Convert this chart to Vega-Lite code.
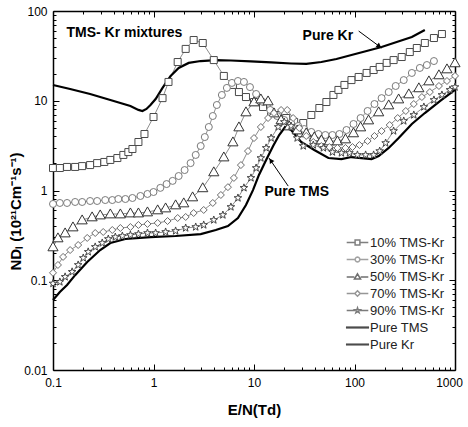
{
  "$schema": "https://vega.github.io/schema/vega-lite/v6.json",
  "width": 402,
  "height": 359,
  "autosize": {"type": "none"},
  "padding": {"left": 53, "top": 11, "right": 13, "bottom": 57},
  "background": "white",
  "config": {
    "view": {"stroke": null},
    "font": "Liberation Sans",
    "axis": {"labelFont": "Liberation Sans", "titleFont": "Liberation Sans", "labelColor": "black", "titleColor": "black", "tickColor": "black", "domainColor": "black", "grid": false, "labelFontSize": 12}
  },
  "datasets": {
    "mix": [
      {"s":"10% TMS-Kr","x":0.1,"y":1.78},{"s":"10% TMS-Kr","x":0.117,"y":1.78},{"s":"10% TMS-Kr","x":0.138,"y":1.83},{"s":"10% TMS-Kr","x":0.166,"y":1.83},{"s":"10% TMS-Kr","x":0.195,"y":1.87},{"s":"10% TMS-Kr","x":0.234,"y":1.92},{"s":"10% TMS-Kr","x":0.275,"y":2.02},{"s":"10% TMS-Kr","x":0.324,"y":2.08},{"s":"10% TMS-Kr","x":0.372,"y":2.19},{"s":"10% TMS-Kr","x":0.437,"y":2.3},{"s":"10% TMS-Kr","x":0.501,"y":2.49},{"s":"10% TMS-Kr","x":0.562,"y":2.68},{"s":"10% TMS-Kr","x":0.617,"y":2.9},{"s":"10% TMS-Kr","x":0.708,"y":3.47},{"s":"10% TMS-Kr","x":0.813,"y":4.26},{"s":"10% TMS-Kr","x":1.0,"y":6.59},{"s":"10% TMS-Kr","x":1.23,"y":10.7},{"s":"10% TMS-Kr","x":1.41,"y":16.2},{"s":"10% TMS-Kr","x":1.74,"y":27.0},{"s":"10% TMS-Kr","x":2.09,"y":37.8},{"s":"10% TMS-Kr","x":2.51,"y":47.5},{"s":"10% TMS-Kr","x":3.09,"y":44.0},{"s":"10% TMS-Kr","x":3.98,"y":28.4},{"s":"10% TMS-Kr","x":5.01,"y":18.9},{"s":"10% TMS-Kr","x":6.17,"y":15.0},{"s":"10% TMS-Kr","x":7.08,"y":12.5},{"s":"10% TMS-Kr","x":8.32,"y":11.0},{"s":"10% TMS-Kr","x":10.0,"y":9.68},{"s":"10% TMS-Kr","x":12.3,"y":8.52},{"s":"10% TMS-Kr","x":14.8,"y":7.5},{"s":"10% TMS-Kr","x":17.4,"y":6.94},{"s":"10% TMS-Kr","x":20.9,"y":6.42},{"s":"10% TMS-Kr","x":25.1,"y":5.8},{"s":"10% TMS-Kr","x":30.9,"y":5.65},{"s":"10% TMS-Kr","x":37.2,"y":6.94},{"s":"10% TMS-Kr","x":44.7,"y":8.3},{"s":"10% TMS-Kr","x":52.5,"y":9.68},{"s":"10% TMS-Kr","x":61.7,"y":11.6},{"s":"10% TMS-Kr","x":69.2,"y":13.2},{"s":"10% TMS-Kr","x":79.4,"y":15.0},{"s":"10% TMS-Kr","x":93.3,"y":17.0},{"s":"10% TMS-Kr","x":110,"y":18.4},{"s":"10% TMS-Kr","x":132,"y":20.4},{"s":"10% TMS-Kr","x":155,"y":22.0},{"s":"10% TMS-Kr","x":178,"y":23.8},{"s":"10% TMS-Kr","x":209,"y":26.4},{"s":"10% TMS-Kr","x":245,"y":28.4},{"s":"10% TMS-Kr","x":295,"y":30.7},{"s":"10% TMS-Kr","x":355,"y":34.9},{"s":"10% TMS-Kr","x":417,"y":38.7},{"s":"10% TMS-Kr","x":501,"y":44.0},{"s":"10% TMS-Kr","x":617,"y":50.0},{"s":"10% TMS-Kr","x":741,"y":55.4},
      {"s":"30% TMS-Kr","x":0.1,"y":0.708},{"s":"30% TMS-Kr","x":0.117,"y":0.726},{"s":"30% TMS-Kr","x":0.138,"y":0.726},{"s":"30% TMS-Kr","x":0.166,"y":0.745},{"s":"30% TMS-Kr","x":0.195,"y":0.745},{"s":"30% TMS-Kr","x":0.234,"y":0.764},{"s":"30% TMS-Kr","x":0.275,"y":0.764},{"s":"30% TMS-Kr","x":0.331,"y":0.783},{"s":"30% TMS-Kr","x":0.389,"y":0.783},{"s":"30% TMS-Kr","x":0.447,"y":0.804},{"s":"30% TMS-Kr","x":0.525,"y":0.804},{"s":"30% TMS-Kr","x":0.617,"y":0.825},{"s":"30% TMS-Kr","x":0.741,"y":0.869},{"s":"30% TMS-Kr","x":0.871,"y":0.915},{"s":"30% TMS-Kr","x":1.0,"y":0.962},{"s":"30% TMS-Kr","x":1.17,"y":1.07},{"s":"30% TMS-Kr","x":1.35,"y":1.18},{"s":"30% TMS-Kr","x":1.55,"y":1.28},{"s":"30% TMS-Kr","x":1.78,"y":1.45},{"s":"30% TMS-Kr","x":2.04,"y":1.69},{"s":"30% TMS-Kr","x":2.34,"y":2.02},{"s":"30% TMS-Kr","x":2.63,"y":2.49},{"s":"30% TMS-Kr","x":2.95,"y":3.13},{"s":"30% TMS-Kr","x":3.24,"y":3.94},{"s":"30% TMS-Kr","x":3.55,"y":5.1},{"s":"30% TMS-Kr","x":3.89,"y":6.76},{"s":"30% TMS-Kr","x":4.27,"y":8.97},{"s":"30% TMS-Kr","x":4.79,"y":11.6},{"s":"30% TMS-Kr","x":5.37,"y":13.9},{"s":"30% TMS-Kr","x":6.03,"y":15.8},{"s":"30% TMS-Kr","x":6.92,"y":16.6},{"s":"30% TMS-Kr","x":7.94,"y":16.2},{"s":"30% TMS-Kr","x":9.12,"y":14.2},{"s":"30% TMS-Kr","x":10.5,"y":11.9},{"s":"30% TMS-Kr","x":12.3,"y":9.68},{"s":"30% TMS-Kr","x":14.5,"y":7.89},{"s":"30% TMS-Kr","x":17.0,"y":6.76},{"s":"30% TMS-Kr","x":20.0,"y":6.1},{"s":"30% TMS-Kr","x":23.4,"y":5.65},{"s":"30% TMS-Kr","x":27.5,"y":5.23},{"s":"30% TMS-Kr","x":31.6,"y":4.84},{"s":"30% TMS-Kr","x":37.2,"y":4.49},{"s":"30% TMS-Kr","x":43.7,"y":4.26},{"s":"30% TMS-Kr","x":51.3,"y":4.15},{"s":"30% TMS-Kr","x":60.3,"y":4.15},{"s":"30% TMS-Kr","x":70.8,"y":4.26},{"s":"30% TMS-Kr","x":83.2,"y":4.72},{"s":"30% TMS-Kr","x":97.7,"y":5.51},{"s":"30% TMS-Kr","x":115,"y":6.42},{"s":"30% TMS-Kr","x":135,"y":7.69},{"s":"30% TMS-Kr","x":158,"y":9.2},{"s":"30% TMS-Kr","x":186,"y":10.7},{"s":"30% TMS-Kr","x":219,"y":12.5},{"s":"30% TMS-Kr","x":257,"y":14.6},{"s":"30% TMS-Kr","x":309,"y":17.0},{"s":"30% TMS-Kr","x":372,"y":20.4},{"s":"30% TMS-Kr","x":447,"y":23.2},{"s":"30% TMS-Kr","x":525,"y":25.0},{"s":"30% TMS-Kr","x":617,"y":27.7},
      {"s":"50% TMS-Kr","x":0.1,"y":0.235},{"s":"50% TMS-Kr","x":0.112,"y":0.296},{"s":"50% TMS-Kr","x":0.132,"y":0.336},{"s":"50% TMS-Kr","x":0.158,"y":0.392},{"s":"50% TMS-Kr","x":0.195,"y":0.469},{"s":"50% TMS-Kr","x":0.245,"y":0.507},{"s":"50% TMS-Kr","x":0.295,"y":0.533},{"s":"50% TMS-Kr","x":0.372,"y":0.547},{"s":"50% TMS-Kr","x":0.468,"y":0.547},{"s":"50% TMS-Kr","x":0.589,"y":0.561},{"s":"50% TMS-Kr","x":0.708,"y":0.561},{"s":"50% TMS-Kr","x":0.871,"y":0.576},{"s":"50% TMS-Kr","x":1.1,"y":0.607},{"s":"50% TMS-Kr","x":1.32,"y":0.638},{"s":"50% TMS-Kr","x":1.66,"y":0.69},{"s":"50% TMS-Kr","x":2.0,"y":0.726},{"s":"50% TMS-Kr","x":2.45,"y":0.847},{"s":"50% TMS-Kr","x":3.09,"y":1.07},{"s":"50% TMS-Kr","x":3.98,"y":1.61},{"s":"50% TMS-Kr","x":5.01,"y":2.36},{"s":"50% TMS-Kr","x":6.17,"y":3.47},{"s":"50% TMS-Kr","x":7.08,"y":5.1},{"s":"50% TMS-Kr","x":8.32,"y":7.5},{"s":"50% TMS-Kr","x":10.0,"y":9.68},{"s":"50% TMS-Kr","x":11.7,"y":10.45},{"s":"50% TMS-Kr","x":13.8,"y":9.93},{"s":"50% TMS-Kr","x":15.8,"y":7.3},{"s":"50% TMS-Kr","x":18.6,"y":6.1},{"s":"50% TMS-Kr","x":22.4,"y":5.23},{"s":"50% TMS-Kr","x":26.9,"y":4.72},{"s":"50% TMS-Kr","x":33.1,"y":4.38},{"s":"50% TMS-Kr","x":39.8,"y":3.94},{"s":"50% TMS-Kr","x":46.8,"y":3.65},{"s":"50% TMS-Kr","x":56.2,"y":3.56},{"s":"50% TMS-Kr","x":67.6,"y":3.56},{"s":"50% TMS-Kr","x":81.3,"y":3.75},{"s":"50% TMS-Kr","x":97.7,"y":4.38},{"s":"50% TMS-Kr","x":115,"y":5.1},{"s":"50% TMS-Kr","x":138,"y":6.1},{"s":"50% TMS-Kr","x":174,"y":7.5},{"s":"50% TMS-Kr","x":219,"y":8.97},{"s":"50% TMS-Kr","x":275,"y":10.45},{"s":"50% TMS-Kr","x":347,"y":11.9},{"s":"50% TMS-Kr","x":437,"y":13.9},{"s":"50% TMS-Kr","x":550,"y":16.6},{"s":"50% TMS-Kr","x":692,"y":19.4},{"s":"50% TMS-Kr","x":832,"y":22.6},{"s":"50% TMS-Kr","x":1000,"y":26.4},
      {"s":"70% TMS-Kr","x":0.1,"y":0.121},{"s":"70% TMS-Kr","x":0.112,"y":0.148},{"s":"70% TMS-Kr","x":0.126,"y":0.182},{"s":"70% TMS-Kr","x":0.148,"y":0.217},{"s":"70% TMS-Kr","x":0.178,"y":0.247},{"s":"70% TMS-Kr","x":0.219,"y":0.296},{"s":"70% TMS-Kr","x":0.263,"y":0.336},{"s":"70% TMS-Kr","x":0.316,"y":0.345},{"s":"70% TMS-Kr","x":0.389,"y":0.363},{"s":"70% TMS-Kr","x":0.468,"y":0.382},{"s":"70% TMS-Kr","x":0.589,"y":0.392},{"s":"70% TMS-Kr","x":0.708,"y":0.413},{"s":"70% TMS-Kr","x":0.871,"y":0.424},{"s":"70% TMS-Kr","x":1.1,"y":0.435},{"s":"70% TMS-Kr","x":1.38,"y":0.457},{"s":"70% TMS-Kr","x":1.74,"y":0.494},{"s":"70% TMS-Kr","x":2.09,"y":0.507},{"s":"70% TMS-Kr","x":2.51,"y":0.561},{"s":"70% TMS-Kr","x":3.16,"y":0.607},{"s":"70% TMS-Kr","x":3.89,"y":0.726},{"s":"70% TMS-Kr","x":4.68,"y":0.891},{"s":"70% TMS-Kr","x":5.5,"y":1.09},{"s":"70% TMS-Kr","x":6.31,"y":1.38},{"s":"70% TMS-Kr","x":7.41,"y":1.92},{"s":"70% TMS-Kr","x":8.71,"y":2.75},{"s":"70% TMS-Kr","x":10.0,"y":3.84},{"s":"70% TMS-Kr","x":11.7,"y":5.1},{"s":"70% TMS-Kr","x":13.8,"y":6.42},{"s":"70% TMS-Kr","x":15.8,"y":7.3},{"s":"70% TMS-Kr","x":18.6,"y":7.89},{"s":"70% TMS-Kr","x":21.4,"y":7.89},{"s":"70% TMS-Kr","x":24.5,"y":6.42},{"s":"70% TMS-Kr","x":28.2,"y":4.97},{"s":"70% TMS-Kr","x":33.1,"y":4.05},{"s":"70% TMS-Kr","x":38.9,"y":3.47},{"s":"70% TMS-Kr","x":46.8,"y":3.13},{"s":"70% TMS-Kr","x":56.2,"y":3.05},{"s":"70% TMS-Kr","x":67.6,"y":2.98},{"s":"70% TMS-Kr","x":81.3,"y":2.98},{"s":"70% TMS-Kr","x":95.5,"y":3.05},{"s":"70% TMS-Kr","x":112,"y":3.21},{"s":"70% TMS-Kr","x":135,"y":3.56},{"s":"70% TMS-Kr","x":158,"y":4.05},{"s":"70% TMS-Kr","x":186,"y":4.6},{"s":"70% TMS-Kr","x":224,"y":5.37},{"s":"70% TMS-Kr","x":269,"y":6.42},{"s":"70% TMS-Kr","x":324,"y":7.69},{"s":"70% TMS-Kr","x":389,"y":9.2},{"s":"70% TMS-Kr","x":468,"y":11.0},{"s":"70% TMS-Kr","x":562,"y":12.5},{"s":"70% TMS-Kr","x":692,"y":14.6},{"s":"70% TMS-Kr","x":832,"y":16.6},{"s":"70% TMS-Kr","x":1000,"y":18.9},
      {"s":"90% TMS-Kr","x":0.1,"y":0.092},{"s":"90% TMS-Kr","x":0.117,"y":0.0957},{"s":"90% TMS-Kr","x":0.132,"y":0.109},{"s":"90% TMS-Kr","x":0.155,"y":0.124},{"s":"90% TMS-Kr","x":0.178,"y":0.148},{"s":"90% TMS-Kr","x":0.2,"y":0.177},{"s":"90% TMS-Kr","x":0.224,"y":0.207},{"s":"90% TMS-Kr","x":0.263,"y":0.235},{"s":"90% TMS-Kr","x":0.309,"y":0.26},{"s":"90% TMS-Kr","x":0.355,"y":0.288},{"s":"90% TMS-Kr","x":0.417,"y":0.303},{"s":"90% TMS-Kr","x":0.49,"y":0.311},{"s":"90% TMS-Kr","x":0.589,"y":0.319},{"s":"90% TMS-Kr","x":0.708,"y":0.327},{"s":"90% TMS-Kr","x":0.871,"y":0.336},{"s":"90% TMS-Kr","x":1.05,"y":0.336},{"s":"90% TMS-Kr","x":1.32,"y":0.345},{"s":"90% TMS-Kr","x":1.66,"y":0.354},{"s":"90% TMS-Kr","x":2.09,"y":0.382},{"s":"90% TMS-Kr","x":2.63,"y":0.392},{"s":"90% TMS-Kr","x":3.16,"y":0.413},{"s":"90% TMS-Kr","x":3.98,"y":0.469},{"s":"90% TMS-Kr","x":4.9,"y":0.533},{"s":"90% TMS-Kr","x":5.89,"y":0.655},{"s":"90% TMS-Kr","x":6.92,"y":0.825},{"s":"90% TMS-Kr","x":7.94,"y":1.07},{"s":"90% TMS-Kr","x":9.33,"y":1.38},{"s":"90% TMS-Kr","x":10.5,"y":1.78},{"s":"90% TMS-Kr","x":11.7,"y":2.3},{"s":"90% TMS-Kr","x":13.2,"y":2.98},{"s":"90% TMS-Kr","x":14.8,"y":3.84},{"s":"90% TMS-Kr","x":17.4,"y":5.1},{"s":"90% TMS-Kr","x":20.0,"y":5.8},{"s":"90% TMS-Kr","x":23.4,"y":5.23},{"s":"90% TMS-Kr","x":26.9,"y":3.84},{"s":"90% TMS-Kr","x":30.9,"y":3.13},{"s":"90% TMS-Kr","x":38.9,"y":3.21},{"s":"90% TMS-Kr","x":49.0,"y":2.98},{"s":"90% TMS-Kr","x":60.3,"y":2.68},{"s":"90% TMS-Kr","x":74.1,"y":2.62},{"s":"90% TMS-Kr","x":89.1,"y":2.62},{"s":"90% TMS-Kr","x":107,"y":2.49},{"s":"90% TMS-Kr","x":129,"y":2.49},{"s":"90% TMS-Kr","x":155,"y":2.49},{"s":"90% TMS-Kr","x":178,"y":2.75},{"s":"90% TMS-Kr","x":204,"y":3.38},{"s":"90% TMS-Kr","x":245,"y":4.6},{"s":"90% TMS-Kr","x":309,"y":5.95},{"s":"90% TMS-Kr","x":389,"y":6.94},{"s":"90% TMS-Kr","x":490,"y":8.52},{"s":"90% TMS-Kr","x":617,"y":10.2},{"s":"90% TMS-Kr","x":741,"y":11.6},{"s":"90% TMS-Kr","x":891,"y":13.2},{"s":"90% TMS-Kr","x":1000,"y":14.2}
    ],
    "pure": [
      {"s":"Pure Kr","x":0.1,"y":15.0},{"s":"Pure Kr","x":0.148,"y":13.5},{"s":"Pure Kr","x":0.234,"y":11.9},{"s":"Pure Kr","x":0.372,"y":10.2},{"s":"Pure Kr","x":0.589,"y":8.75},{"s":"Pure Kr","x":0.708,"y":7.9},{"s":"Pure Kr","x":0.776,"y":7.69},{"s":"Pure Kr","x":0.851,"y":8.1},{"s":"Pure Kr","x":0.933,"y":8.95},{"s":"Pure Kr","x":1.05,"y":10.45},{"s":"Pure Kr","x":1.23,"y":13.9},{"s":"Pure Kr","x":1.48,"y":18.9},{"s":"Pure Kr","x":1.78,"y":23.2},{"s":"Pure Kr","x":2.24,"y":26.4},{"s":"Pure Kr","x":2.95,"y":27.7},{"s":"Pure Kr","x":4.17,"y":28.4},{"s":"Pure Kr","x":5.89,"y":28.1},{"s":"Pure Kr","x":9.33,"y":27.4},{"s":"Pure Kr","x":14.8,"y":26.7},{"s":"Pure Kr","x":23.4,"y":26.0},{"s":"Pure Kr","x":33.1,"y":25.7},{"s":"Pure Kr","x":46.8,"y":27.0},{"s":"Pure Kr","x":66.1,"y":29.2},{"s":"Pure Kr","x":93.3,"y":32.3},{"s":"Pure Kr","x":132,"y":35.8},{"s":"Pure Kr","x":186,"y":39.7},{"s":"Pure Kr","x":263,"y":45.1},{"s":"Pure Kr","x":372,"y":51.3},{"s":"Pure Kr","x":501,"y":61.4},
      {"s":"Pure TMS","x":0.1,"y":0.0603},{"s":"Pure TMS","x":0.117,"y":0.074},{"s":"Pure TMS","x":0.138,"y":0.0886},{"s":"Pure TMS","x":0.166,"y":0.114},{"s":"Pure TMS","x":0.219,"y":0.16},{"s":"Pure TMS","x":0.295,"y":0.217},{"s":"Pure TMS","x":0.372,"y":0.26},{"s":"Pure TMS","x":0.525,"y":0.288},{"s":"Pure TMS","x":0.933,"y":0.303},{"s":"Pure TMS","x":1.66,"y":0.311},{"s":"Pure TMS","x":2.95,"y":0.327},{"s":"Pure TMS","x":4.17,"y":0.363},{"s":"Pure TMS","x":5.5,"y":0.402},{"s":"Pure TMS","x":6.92,"y":0.494},{"s":"Pure TMS","x":8.32,"y":0.69},{"s":"Pure TMS","x":9.77,"y":1.01},{"s":"Pure TMS","x":11.2,"y":1.49},{"s":"Pure TMS","x":13.2,"y":2.19},{"s":"Pure TMS","x":15.5,"y":3.13},{"s":"Pure TMS","x":17.8,"y":4.15},{"s":"Pure TMS","x":20.4,"y":5.1},{"s":"Pure TMS","x":23.4,"y":4.72},{"s":"Pure TMS","x":29.5,"y":3.47},{"s":"Pure TMS","x":39.8,"y":2.83},{"s":"Pure TMS","x":55.0,"y":2.3},{"s":"Pure TMS","x":74.1,"y":2.24},{"s":"Pure TMS","x":93.3,"y":2.36},{"s":"Pure TMS","x":117,"y":2.3},{"s":"Pure TMS","x":148,"y":2.24},{"s":"Pure TMS","x":174,"y":2.42},{"s":"Pure TMS","x":219,"y":2.98},{"s":"Pure TMS","x":275,"y":3.84},{"s":"Pure TMS","x":372,"y":5.51},{"s":"Pure TMS","x":501,"y":7.3},{"s":"Pure TMS","x":708,"y":9.93},{"s":"Pure TMS","x":1000,"y":13.2}
    ]
  },
  "resolve": {
    "scale": {"shape": "independent", "stroke": "independent"},
    "axis": {"x": "independent", "y": "independent"}
  },
  "layer": [
    {
      "data": {"name": "mix"},
      "mark": {"type": "line", "stroke": "#707070", "strokeWidth": 0.8},
      "encoding": {
        "x": {"field": "x", "type": "quantitative", "scale": {"type": "log", "domain": [0.1, 1000], "nice": false},
          "axis": {"orient": "bottom", "values": [0.1, 1, 10, 100, 1000], "labelExpr": "'' + datum.value", "tickSize": -6, "tickWidth": 1, "labelPadding": 13, "labelFlush": false, "labelOverlap": false, "labelOffset": {"condition": {"test": "datum.value === 1000", "value": -6}, "value": 0}, "domainWidth": 1.5, "title": "E/N(Td)", "titleFontSize": 15, "titleFontWeight": "bold", "titlePadding": 14}},
        "y": {"field": "y", "type": "quantitative", "scale": {"type": "log", "domain": [0.01, 100], "nice": false},
          "axis": {"orient": "left", "values": [0.01, 0.1, 1, 10, 100], "labelExpr": "'' + datum.value", "tickSize": -6, "tickWidth": 1, "labelPadding": 12, "labelFlush": false, "labelOverlap": false, "domainWidth": 1.5, "title": "NDₗ (10²¹Cm⁻¹s⁻¹)", "titleFontSize": 15, "titleFontWeight": "bold", "titleX": -38, "titleY": 200, "titleAlign": "center", "titleBaseline": "middle", "titleAngle": 270}},
        "detail": {"field": "s"}
      }
    },
    {
      "data": {"name": "pure"},
      "mark": {"type": "line", "stroke": "black", "strokeWidth": 2.2},
      "encoding": {
        "x": {"field": "x", "type": "quantitative", "scale": {"type": "log"},
          "axis": {"orient": "top", "values": [0.1, 1, 10, 100, 1000], "labels": false, "tickSize": -6, "tickWidth": 1, "domainWidth": 1.5, "title": null}},
        "y": {"field": "y", "type": "quantitative", "scale": {"type": "log"},
          "axis": {"orient": "right", "values": [0.01, 0.1, 1, 10, 100], "labels": false, "tickSize": -6, "tickWidth": 1, "domainWidth": 1.5, "title": null}},
        "detail": {"field": "s"}
      }
    },
    {
      "data": {"name": "mix"},
      "mark": {"type": "point", "filled": true, "fill": "white", "size": 49, "strokeWidth": 1, "opacity": 1},
      "encoding": {
        "x": {"field": "x", "type": "quantitative", "scale": {"type": "log"},
          "axis": {"orient": "bottom", "values": [0.2,0.3,0.4,0.5,0.6,0.7,0.8,0.9,2,3,4,5,6,7,8,9,20,30,40,50,60,70,80,90,200,300,400,500,600,700,800,900], "labels": false, "tickSize": -3, "tickWidth": 1, "domain": false, "title": null}},
        "y": {"field": "y", "type": "quantitative", "scale": {"type": "log"},
          "axis": {"orient": "left", "values": [0.02,0.03,0.04,0.05,0.06,0.07,0.08,0.09,0.2,0.3,0.4,0.5,0.6,0.7,0.8,0.9,2,3,4,5,6,7,8,9,20,30,40,50,60,70,80,90], "labels": false, "tickSize": -3, "tickWidth": 1, "domain": false, "title": null}},
        "shape": {"field": "s", "type": "nominal", "legend": null,
          "scale": {"domain": ["10% TMS-Kr", "30% TMS-Kr", "50% TMS-Kr", "70% TMS-Kr", "90% TMS-Kr"],
            "range": ["square", "circle", "M0,-1.45L1.45,1.1L-1.45,1.1Z", "diamond", "M0,-1.15L0.27,-0.37L1.09,-0.36L0.44,0.14L0.68,0.93L0,0.46L-0.68,0.93L-0.44,0.14L-1.09,-0.36L-0.27,-0.37Z"]}},
        "stroke": {"field": "s", "type": "nominal", "legend": null,
          "scale": {"domain": ["10% TMS-Kr", "30% TMS-Kr", "50% TMS-Kr", "70% TMS-Kr", "90% TMS-Kr"],
            "range": ["#4a4a4a", "#7a7a7a", "#333333", "#6a6a6a", "#444444"]}}
      }
    },
    {
      "data": {"name": "mix"},
      "transform": [{"filter": "false"}],
      "mark": {"type": "point", "filled": true, "fill": "white", "size": 36, "strokeWidth": 1},
      "encoding": {
        "x": {"field": "x", "type": "quantitative", "scale": {"type": "log"},
          "axis": {"orient": "top", "values": [0.2,0.3,0.4,0.5,0.6,0.7,0.8,0.9,2,3,4,5,6,7,8,9,20,30,40,50,60,70,80,90,200,300,400,500,600,700,800,900], "labels": false, "tickSize": -3, "tickWidth": 1, "domain": false, "title": null}},
        "y": {"field": "y", "type": "quantitative", "scale": {"type": "log"},
          "axis": {"orient": "right", "values": [0.02,0.03,0.04,0.05,0.06,0.07,0.08,0.09,0.2,0.3,0.4,0.5,0.6,0.7,0.8,0.9,2,3,4,5,6,7,8,9,20,30,40,50,60,70,80,90], "labels": false, "tickSize": -3, "tickWidth": 1, "domain": false, "title": null}},
        "shape": {"field": "s", "type": "nominal",
          "scale": {"domain": ["10% TMS-Kr", "30% TMS-Kr", "50% TMS-Kr", "70% TMS-Kr", "90% TMS-Kr", "Pure TMS", "Pure Kr"],
            "range": [
              "M-3.6,0H-0.85M0.85,0H3.6M-0.8,-0.8H0.8V0.8H-0.8Z",
              "M-3.6,0H-0.8M0.8,0H3.6M0.8,0L0.69,0.4L0.4,0.69L0,0.8L-0.4,0.69L-0.69,0.4L-0.8,0L-0.69,-0.4L-0.4,-0.69L0,-0.8L0.4,-0.69L0.69,-0.4Z",
              "M-3.6,0.15H-1.05M1.05,0.15H3.6M0,-0.9L1.02,0.85L-1.02,0.85Z",
              "M-3.6,0H-0.9M0.9,0H3.6M0,-0.9L0.9,0L0,0.9L-0.9,0Z",
              "M-3.6,0H-0.85M0.85,0H3.6M0,-0.9L0.21,-0.29L0.86,-0.28L0.34,0.11L0.53,0.73L0,0.36L-0.53,0.73L-0.34,0.11L-0.86,-0.28L-0.21,-0.29Z",
              "M-3.6,-0.12H3.6V0.12H-3.6Z",
              "M-3.6,-0.1H3.6V0.1H-3.6Z"]},
          "legend": {"title": null, "orient": "none", "legendX": 298, "legendY": 225, "padding": 0, "symbolSize": 36, "labelFont": "Liberation Sans", "labelFontSize": 13, "labelColor": "#222222", "labelOffset": 6, "rowPadding": 3, "symbolFillColor": "white"}},
        "stroke": {"field": "s", "type": "nominal",
          "scale": {"domain": ["10% TMS-Kr", "30% TMS-Kr", "50% TMS-Kr", "70% TMS-Kr", "90% TMS-Kr", "Pure TMS", "Pure Kr"],
            "range": ["#4a4a4a", "#7a7a7a", "#333333", "#6a6a6a", "#444444", "#000000", "#000000"]},
          "legend": {"title": null, "orient": "none", "legendX": 298, "legendY": 225, "padding": 0, "symbolSize": 36, "labelFont": "Liberation Sans", "labelFontSize": 13, "labelColor": "#222222", "labelOffset": 6, "rowPadding": 3, "symbolFillColor": "white"}}
      }
    },
    {
      "data": {"values": [{"t": "TMS- Kr mixtures"}]},
      "mark": {"type": "text", "font": "Liberation Sans", "fontSize": 14, "fontWeight": "bold", "align": "center", "baseline": "middle", "color": "black"},
      "encoding": {
        "x": {"datum": 0.513, "type": "quantitative", "scale": {"type": "log"}, "axis": null},
        "y": {"datum": 56.9, "type": "quantitative", "scale": {"type": "log"}, "axis": null},
        "text": {"field": "t"}
      }
    },
    {
      "data": {"values": [{"t": "Pure Kr"}]},
      "mark": {"type": "text", "font": "Liberation Sans", "fontSize": 14, "fontWeight": "bold", "align": "center", "baseline": "middle", "color": "black"},
      "encoding": {
        "x": {"datum": 54.3, "type": "quantitative", "scale": {"type": "log"}, "axis": null},
        "y": {"datum": 52.0, "type": "quantitative", "scale": {"type": "log"}, "axis": null},
        "text": {"field": "t"}
      }
    },
    {
      "data": {"values": [{"t": "Pure TMS"}]},
      "mark": {"type": "text", "font": "Liberation Sans", "fontSize": 14, "fontWeight": "bold", "align": "center", "baseline": "middle", "color": "black"},
      "encoding": {
        "x": {"datum": 26.6, "type": "quantitative", "scale": {"type": "log"}, "axis": null},
        "y": {"datum": 0.95, "type": "quantitative", "scale": {"type": "log"}, "axis": null},
        "text": {"field": "t"}
      }
    },
    {
      "data": {"values": [{"a": "Pure Kr arrow"}]},
      "mark": {"type": "rule", "color": "black", "strokeWidth": 1},
      "encoding": {
        "x": {"datum": 110, "type": "quantitative", "scale": {"type": "log"}, "axis": null},
        "y": {"datum": 59.8, "type": "quantitative", "scale": {"type": "log"}, "axis": null},
        "x2": {"datum": 186},
        "y2": {"datum": 38.7}
      }
    },
    {
      "data": {"values": [{"a": "Pure TMS arrow"}]},
      "mark": {"type": "rule", "color": "black", "strokeWidth": 1},
      "encoding": {
        "x": {"datum": 21.9, "type": "quantitative", "scale": {"type": "log"}, "axis": null},
        "y": {"datum": 1.12, "type": "quantitative", "scale": {"type": "log"}, "axis": null},
        "x2": {"datum": 14.1},
        "y2": {"datum": 2.3}
      }
    },
    {
      "data": {"values": [{"a": "Pure Kr head"}]},
      "mark": {"type": "point", "shape": "triangle-up", "filled": true, "color": "black", "size": 30, "angle": 127, "opacity": 1},
      "encoding": {
        "x": {"datum": 176, "type": "quantitative", "scale": {"type": "log"}, "axis": null},
        "y": {"datum": 40.6, "type": "quantitative", "scale": {"type": "log"}, "axis": null}
      }
    },
    {
      "data": {"values": [{"a": "Pure TMS head"}]},
      "mark": {"type": "point", "shape": "triangle-up", "filled": true, "color": "black", "size": 30, "angle": 326, "opacity": 1},
      "encoding": {
        "x": {"datum": 14.7, "type": "quantitative", "scale": {"type": "log"}, "axis": null},
        "y": {"datum": 2.16, "type": "quantitative", "scale": {"type": "log"}, "axis": null}
      }
    }
  ]
}
